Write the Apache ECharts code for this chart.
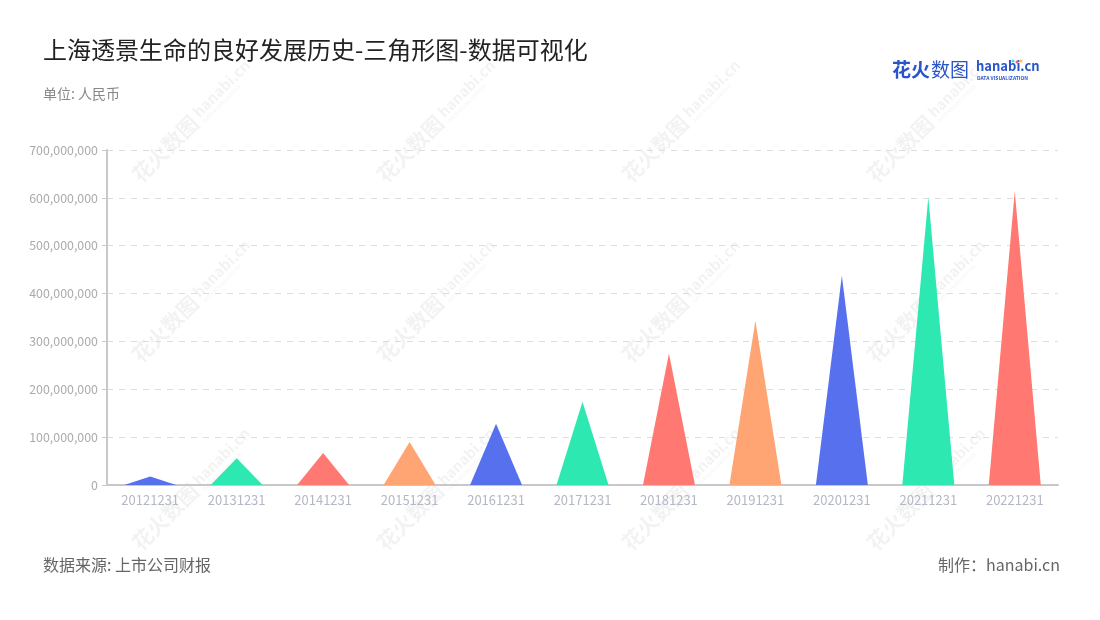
<!DOCTYPE html>
<html>
<head>
<meta charset="utf-8">
<script src="https://cdn.jsdelivr.net/npm/echarts@6/dist/echarts.min.js"></script>
<style>html,body{margin:0;padding:0;background:#fff;}#c{width:1100px;height:620px;}</style>
</head>
<body>
<div id="c"></div>
<script>
var categories = ['20121231','20131231','20141231','20151231','20161231','20171231','20181231','20191231','20201231','20211231','20221231'];
var values = [18000000, 56000000, 67000000, 90000000, 128000000, 174000000, 275000000, 343000000, 437000000, 602000000, 614000000];
var palette = ['#5771EE', '#2DE8B1', '#FF7872', '#FFA473'];
var yTicks = { min: 0, max: 700000000, interval: 100000000 };

var font = '"Noto Sans CJK SC","Noto Sans",sans-serif';
var chart = echarts.init(document.getElementById('c'));

var wm = [];
var cols = [182, 427, 672, 917];
var rows = [132, 312, 500];
cols.forEach(function (x) {
  rows.forEach(function (y) {
    wm.push({
      type: 'group', x: x, y: y, rotation: Math.PI / 4, silent: true, z: -1,
      children: [
        { type: 'text', x: -66, y: 0, style: { text: '花火数图', fill: 'rgba(0,0,0,0.05)', font: 'bold 21px ' + font, textVerticalAlign: 'middle' } },
        { type: 'text', x: 22, y: -3, style: { text: 'hanabi.cn', fill: 'rgba(0,0,0,0.05)', font: 'bold 15px ' + font, textVerticalAlign: 'middle' } },
        { type: 'text', x: 23, y: 8, style: { text: 'DATA VISUALIZATION', fill: 'rgba(0,0,0,0.045)', font: 'bold 5px ' + font, textVerticalAlign: 'middle' } }
      ]
    });
  });
});

var graphics = wm.concat([
  { type: 'text', left: 43, top: 38, style: { text: '上海透景生命的良好发展历史-三角形图-数据可视化', fill: '#222', font: '24px ' + font } },
  { type: 'text', left: 43, top: 87, style: { text: '单位: 人民币', fill: '#888', font: '14px ' + font } },
  { type: 'text', left: 43, top: 557, style: { text: '数据来源: 上市公司财报', fill: '#666', font: '16px ' + font } },
  { type: 'text', right: 40, top: 557, style: { text: '制作：hanabi.cn', fill: '#666', font: '16px ' + font } },
  { type: 'text', left: 892, top: 60, style: { text: '花火', fill: '#2A55C8', font: 'bold 19px ' + font } },
  { type: 'text', left: 931, top: 60, style: { text: '数图', fill: '#2A55C8', font: '19px ' + font } },
  { type: 'text', left: 976, top: 60, style: { text: 'hanabi.cn', fill: '#2A55C8', font: 'bold 13px ' + font } },
  { type: 'text', left: 977, top: 76, style: { text: 'DATA VISUALIZATION', fill: '#2A55C8', font: 'bold 5px ' + font } },
  { type: 'circle', shape: { cx: 1017, cy: 62, r: 1.5 }, style: { fill: '#FF5A7A' } },
  { type: 'circle', shape: { cx: 1021, cy: 61, r: 1.5 }, style: { fill: '#FFC43D' } },
  { type: 'circle', shape: { cx: 1013, cy: 61, r: 1.5 }, style: { fill: '#3DD6F5' } }
]);

chart.setOption({
  animation: false,
  backgroundColor: '#fff',
  textStyle: { fontFamily: font },
  graphic: graphics,
  grid: { left: 107, right: 42, top: 150, bottom: 135, containLabel: false },
  xAxis: {
    type: 'category',
    data: categories,
    axisLine: { lineStyle: { color: '#c8c8c8', width: 2 } },
    axisTick: { alignWithLabel: true, lineStyle: { color: '#c8c8c8' } },
    axisLabel: { color: '#b4b8c4', fontSize: 13, margin: 9 }
  },
  yAxis: {
    type: 'value',
    min: yTicks.min, max: yTicks.max, interval: yTicks.interval,
    axisLine: { show: true, lineStyle: { color: '#c8c8c8', width: 2 } },
    axisTick: { show: true, length: 5, lineStyle: { color: '#c8c8c8' } },
    axisLabel: { color: '#aaa', fontSize: 12.4, margin: 9, formatter: function (v) { return v.toLocaleString('en-US'); } },
    splitLine: { lineStyle: { color: '#ddd', type: [6, 6] } }
  },
  series: [{
    type: 'pictorialBar',
    symbol: 'path://M0,10 L5,0 L10,10 Z',
    symbolSize: ['100%', '100%'],
    barWidth: 52,
    data: values.map(function (v, i) {
      return { value: v, itemStyle: { color: palette[i % palette.length] } };
    }),
    z: 2
  }]
});
</script>
</body>
</html>
